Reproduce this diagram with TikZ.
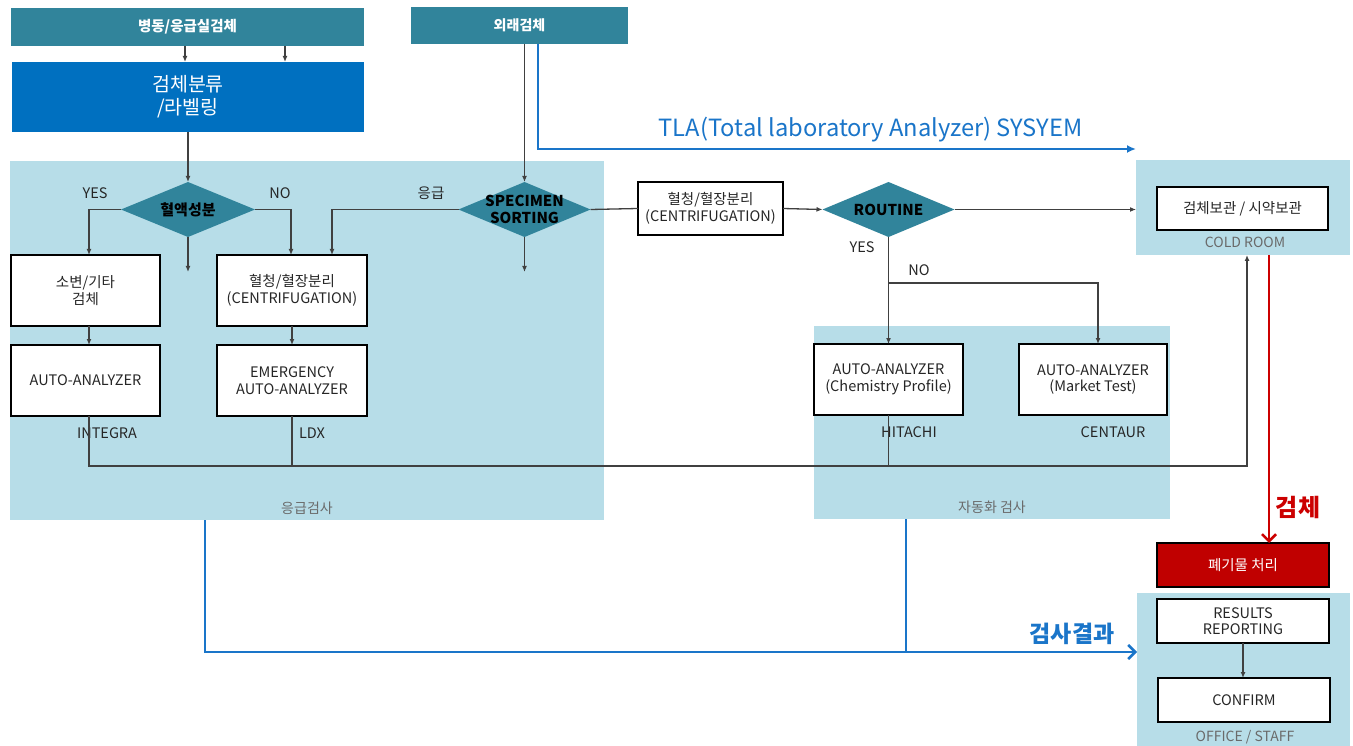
\documentclass[tikz,border=0pt]{standalone}
\usepackage{fontspec}
\setmainfont{Noto Sans CJK KR}
\usetikzlibrary{arrows.meta,shapes.geometric}
\definecolor{tealc}{HTML}{31849B}
\definecolor{regionc}{HTML}{B7DDE8}
\definecolor{bluebox}{HTML}{0070C0}
\definecolor{lineblue}{HTML}{1A75C9}
\definecolor{darkred}{HTML}{C00000}
\definecolor{arrred}{HTML}{CC0000}
\definecolor{labgray}{HTML}{6A6A6A}
\definecolor{linegray}{HTML}{404040}
\definecolor{txt}{HTML}{262626}
\tikzset{
 region/.style={fill=regionc, draw=none, inner sep=0, outer sep=0},
 tealbox/.style={fill=tealc, draw=none, text=white, font=\fontsize{14.5}{17}\selectfont\bfseries, inner sep=0, outer sep=0},
 wbox/.style={draw=black, line width=2.4pt, fill=white, align=center, text=txt, font=\fontsize{14.5}{16.5}\selectfont, inner sep=0, outer sep=0},
 dia/.style={diamond, fill=tealc, draw=none, minimum width=134pt, minimum height=55pt, inner sep=0, outer sep=0},
 dtext/.style={font=\fontsize{15}{17.5}\selectfont\bfseries, text=black, align=center, inner sep=0},
 lab/.style={font=\fontsize{14.5}{17}\selectfont, text=txt, inner sep=0},
 reglab/.style={font=\fontsize{14}{17}\selectfont, text=labgray, inner sep=0},
 conn/.style={draw=linegray, line width=1.3pt},
 arr/.style={conn, -{Latex[length=6pt,width=5pt]}},
 bluel/.style={draw=lineblue, line width=2.6pt},
 bluelab/.style={text=lineblue, inner sep=0},
}
\begin{document}
\begin{tikzpicture}[x=1pt,y=-1pt]
\fill[white] (0,0) rectangle (1353,746);
\useasboundingbox (0,0) rectangle (1353,746);

% regions
\node[region, minimum width=594pt, minimum height=359pt] (regL) at (307,340.5) {};
\node[region, minimum width=214pt, minimum height=95pt] (regC) at (1243,207.5) {};
\node[region, minimum width=356pt, minimum height=193pt] (regA) at (992,422.5) {};
\node[region, minimum width=213pt, minimum height=153pt] (regO) at (1243.5,669.5) {};

% top boxes
\node[tealbox, minimum width=353pt, minimum height=38pt] (top1) at (187.5,27) {병동/응급실검체};
\node[fill=bluebox, text=white, align=center, inner sep=0, outer sep=0, minimum width=352pt, minimum height=70pt, font=\fontsize{19.5}{23}\selectfont] (blue1) at (188,97) {검체분류\\/라벨링};
\node[tealbox, minimum width=217pt, minimum height=37pt, font=\fontsize{14}{17}\selectfont\bfseries] (ext) at (519.5,25.5) {외래검체};

% diamonds
\node[dia] (d1) at (188,209.5) {};
\node[dtext] (d1t) at (d1) {혈액성분};
\node[dia, minimum width=132pt] (d2) at (524.5,209.5) {};
\node[dtext] (d2t) at (d2) {SPECIMEN\\SORTING};
\node[dia, minimum width=132pt] (d3) at (888.5,209.5) {};
\node[dtext] (d3t) at (d3) {ROUTINE};

% white boxes
\node[wbox, minimum width=149pt, minimum height=71pt] (b1) at (85.5,290.5) {소변/기타\\검체};
\node[wbox, minimum width=150pt, minimum height=71pt] (b2) at (292,290.5) {혈청/혈장분리\\(CENTRIFUGATION)};
\node[wbox, minimum width=149pt, minimum height=71pt] (b3) at (85.5,380.5) {AUTO-ANALYZER};
\node[wbox, minimum width=150pt, minimum height=71pt] (b4) at (292,380.5) {EMERGENCY\\AUTO-ANALYZER};
\node[wbox, minimum width=145pt, minimum height=53pt] (c2) at (710.5,208.5) {혈청/혈장분리\\(CENTRIFUGATION)};
\node[wbox, minimum width=171pt, minimum height=43pt] (cold) at (1242.5,208.5) {검체보관 / 시약보관};
\node[wbox, minimum width=149pt, minimum height=71pt] (chem) at (888.5,379.5) {AUTO-ANALYZER\\(Chemistry Profile)};
\node[wbox, minimum width=148pt, minimum height=71pt] (mkt) at (1093,379.5) {AUTO-ANALYZER\\(Market Test)};
\node[wbox, fill=darkred, text=white, minimum width=172pt, minimum height=44pt] (waste) at (1243,565) {폐기물 처리};
\node[wbox, minimum width=172pt, minimum height=44pt] (res) at (1243,621) {RESULTS\\REPORTING};
\node[wbox, minimum width=172pt, minimum height=44pt] (conf) at (1244,700) {CONFIRM};

% labels
\node[lab] (yes1) at (95,193) {YES};
\node[lab] (no1) at (280,193) {NO};
\node[lab] (emg) at (431,193) {응급};
\node[lab] (integra) at (107,433) {INTEGRA};
\node[lab] (ldx) at (312,433) {LDX};
\node[lab] (yes2) at (862,247) {YES};
\node[lab] (no2) at (919,270) {NO};
\node[lab] (hitachi) at (909,432) {HITACHI};
\node[lab] (centaur) at (1113,432) {CENTAUR};
\node[reglab] (regLlab) at (307,508) {응급검사};
\node[reglab] (regClab) at (1245,242) {COLD ROOM};
\node[reglab] (regAlab) at (992,507) {자동화 검사};
\node[reglab] (regOlab) at (1245,737) {OFFICE / STAFF};
\node[bluelab, font=\fontsize{23.7}{27}\selectfont] (tla) at (870.5,130) {TLA(Total laboratory Analyzer) SYSYEM};
\node[bluelab, font=\fontsize{23}{27}\selectfont\bfseries] (resl) at (1072,634) {검사결과};
\node[text=arrred, inner sep=0, font=\fontsize{24}{27}\selectfont\bfseries] (spl) at (1298,507) {검체};

% coordinates
\coordinate (f1) at (188,272);
\coordinate (f2) at (524.5,272);
\coordinate (br) at (888.5,283);
\coordinate (tlaend) at (1136,149);
\coordinate (resend) at (1137,652);

% connectors
\draw[arr] (185,0 |- top1.south) -- (185,0 |- blue1.north);
\draw[arr] (285,0 |- top1.south) -- (285,0 |- blue1.north);
\draw[arr] (blue1.south) -- (d1.north);
\draw[arr] (d1.west) -| (89,0 |- b1.north);
\draw[arr] (d1.east) -| (291,0 |- b2.north);
\draw[arr] (d1.south) -- (f1);
\draw[arr] (d2.north |- ext.south) -- (d2.north);
\draw[arr] (d2.west) -| (332,0 |- b2.north);
\draw[arr] (d2.south) -- (f2);
\draw[conn] (d2.east) -- (c2.west);
\draw[arr] (c2.east) -- (d3.west);
\draw[arr] (d3.east) -- (d3.east -| regC.west);
\draw[arr] (d3.south) -- (chem.north);
\draw[arr] (br) -| (1098,0 |- mkt.north);
\draw[arr] (89,0 |- b1.south) -- (89,0 |- b3.north);
\draw[arr] (b2.south) -- (b4.north);
\draw[arr] (89,0 |- b3.south) -- (89,466) -- (1247,466) -- (1247,0 |- regC.south);
\draw[conn] (b4.south) -- (b4.south |- 0,466);
\draw[conn] (chem.south) -- (chem.south |- 0,466);
\draw[arr] (res.south) -- (res.south |- conf.north);
\draw[draw=arrred, line width=2.5pt, -{Straight Barb[length=7pt,width=14pt,line width=2.5pt]}] (1269,0 |- regC.south) -- (1269,0 |- waste.north);
\draw[bluel, -{Latex[length=9pt,width=8pt]}] (538,0 |- ext.south) -- (538,149) -- (tlaend);
\draw[bluel, -{Straight Barb[length=7pt,width=14pt,line width=2.6pt]}] (205,0 |- regL.south) -- (205,652) -- (resend);
\draw[bluel] (906,0 |- regA.south) -- (906,652);
\end{tikzpicture}
\end{document}
